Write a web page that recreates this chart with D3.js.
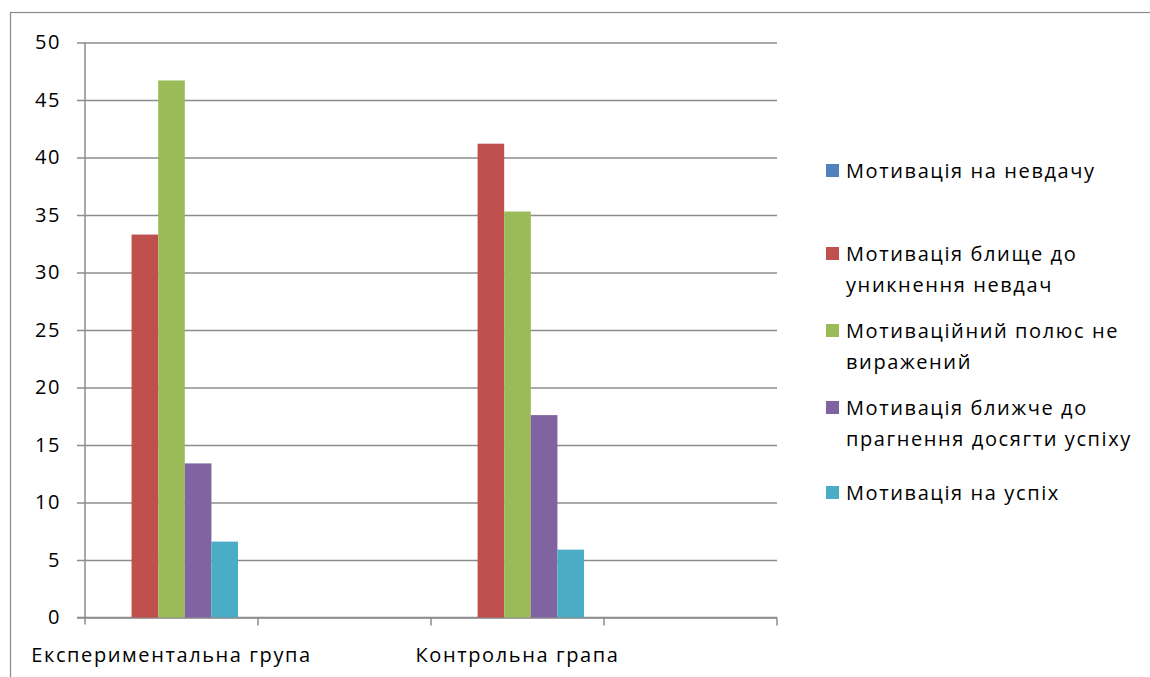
<!DOCTYPE html>
<html><head><meta charset="utf-8">
<script src="https://cdn.jsdelivr.net/npm/d3@7"></script>
<style>body{margin:0;background:#fff;} svg{display:block;font-family:"Open Sans",Calibri,sans-serif;}</style>
</head><body><svg id="c" width="1150" height="677"></svg>
<script>
const categories = ["Експериментальна група", "", "Контрольна грапа", ""];
const seriesNames = ["Мотивація на невдачу", "Мотивація блище до уникнення невдач", "Мотиваційний полюс не виражений", "Мотивація ближче до прагнення досягти успіху", "Мотивація на успіх"];
const legendLines = [["Мотивація на невдачу"], ["Мотивація блище до", "уникнення невдач"], ["Мотиваційний полюс не", "виражений"], ["Мотивація ближче до", "прагнення досягти успіху"], ["Мотивація на успіх"]];
const colors = ["#4F81BD", "#C0504D", "#9BBB59", "#8064A2", "#4BACC6"];
const s1 = [0, 33.3, 46.7, 13.4, 6.6];   // Експериментальна група
const s3 = [0, 41.2, 35.3, 17.6, 5.9];   // Контрольна грапа
const yTicks = [0, 5, 10, 15, 20, 25, 30, 35, 40, 45, 50];
const values = [s1, null, s3, null];

const FS = 20, LS = 1.6;
const svg = d3.select("#c");
const pL = 85, pR = 777, pT = 42.5, pB = 617.5;
const x = d3.scaleBand().domain(d3.range(categories.length)).range([pL, pR]).paddingInner(0).paddingOuter(0);
const y = d3.scaleLinear().domain([0, 50]).range([pB, pT]);
const bw = x.bandwidth() / 6.5;
const xs = d3.scaleBand().domain(d3.range(seriesNames.length)).range([0.75 * bw, 0.75 * bw + 5 * bw]).padding(0);

// outer chart border
svg.append("rect").attr("x", 10.5).attr("y", 12.5).attr("width", 1300).attr("height", 800)
  .attr("fill", "none").attr("stroke", "#8a8a8a").attr("stroke-width", 1.2);

// gridlines + y axis
const yAxis = d3.axisLeft(y).tickValues(yTicks).tickSize(pR - pL + 8).tickPadding(16).tickFormat(d3.format("d"));
const gy = svg.append("g").attr("transform", `translate(${pR},0)`).call(yAxis);
gy.select(".domain").remove();
gy.selectAll(".tick line").attr("stroke", "#8c8c8c").attr("stroke-width", 1.5);
gy.selectAll(".tick text").attr("font-size", FS).attr("fill", "#000").attr("letter-spacing", LS)
  .attr("font-family", "'Open Sans',sans-serif");
svg.append("line").attr("x1", pL).attr("x2", pL).attr("y1", pT).attr("y2", pB + 7)
  .attr("stroke", "#8c8c8c").attr("stroke-width", 1.5);

// x axis
const xAxisG = svg.append("g").attr("transform", `translate(0,${pB})`);
xAxisG.append("line").attr("x1", pL - 8).attr("x2", pR).attr("y1", 0).attr("y2", 0)
  .attr("stroke", "#8c8c8c").attr("stroke-width", 1.5);
const boundaries = d3.range(categories.length + 1).map(i => i < categories.length ? x(i) : x(categories.length - 1) + x.bandwidth());
xAxisG.selectAll("line.tk").data(boundaries.slice(1)).join("line").attr("class", "tk")
  .attr("x1", d => d).attr("x2", d => d).attr("y1", 0).attr("y2", 8)
  .attr("stroke", "#8c8c8c").attr("stroke-width", 1.5);
xAxisG.selectAll("text").data(categories.map((c, i) => ({c, i})).filter(d => d.c)).join("text")
  .attr("x", d => x(d.i) + x.bandwidth() / 2).attr("y", 44)
  .attr("text-anchor", "middle").attr("font-size", FS).attr("letter-spacing", LS).attr("fill", "#000").text(d => d.c);

// bars
values.forEach((vals, ci) => {
  if (!vals) return;
  svg.append("g").selectAll("rect").data(vals).join("rect")
    .attr("x", (d, i) => x(ci) + xs(i)).attr("width", xs.bandwidth())
    .attr("y", d => y(d)).attr("height", d => y(0) - y(d))
    .attr("fill", (d, i) => colors[i]);
});

// legend
const legendY = [171, 254, 331, 408, 493];
const lg = svg.append("g");
legendLines.forEach((lines, i) => {
  lg.append("rect").attr("x", 826).attr("y", legendY[i] - 7).attr("width", 13).attr("height", 13).attr("fill", colors[i]);
  lines.forEach((ln, j) => {
    lg.append("text").attr("x", 846).attr("y", legendY[i] + j * 31 + 7)
      .attr("font-size", FS).attr("letter-spacing", LS).attr("fill", "#000").text(ln);
  });
});
</script></body></html>
